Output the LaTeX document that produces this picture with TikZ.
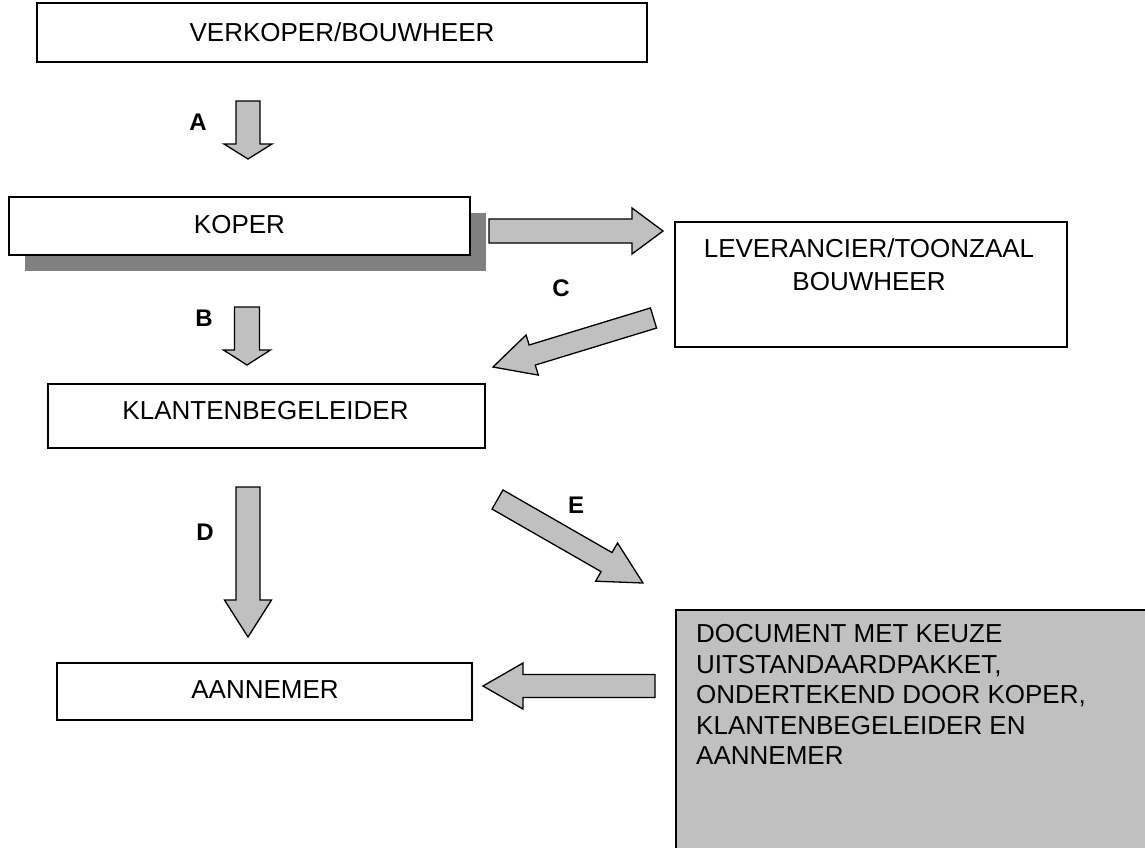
\documentclass[tikz,border=0pt]{standalone}
\usepackage{fontspec}
\setmainfont{Liberation Sans}
\usetikzlibrary{calc}
\definecolor{arrowgray}{HTML}{C0C0C0}
\definecolor{shadowgray}{HTML}{808080}
\newcommand\blockarrow[6]{%
  \coordinate (#1s) at #2;
  \coordinate (#1e) at #3;
  \coordinate (#1h) at ($(#1e)!#6!(#1s)$);
  \draw[barrow] ($(#1s)!#4!90:(#1e)$) -- ($(#1h)!#4!90:(#1e)$) -- ($(#1h)!#5!90:(#1e)$)
     -- (#1e) -- ($(#1h)!#5!-90:(#1e)$) -- ($(#1h)!#4!-90:(#1e)$) -- ($(#1s)!#4!-90:(#1e)$) -- cycle;
}
\tikzset{
  box/.style={draw=black, line width=1.5pt, fill=white, inner sep=0pt},
  barrow/.style={draw=black, line width=1.3pt, fill=arrowgray, line join=miter},
  txt/.style={font=\fontsize{26}{30}\selectfont, inner sep=0pt},
  lbl/.style={font=\fontsize{24}{28}\selectfont\bfseries, inner sep=0pt},
}
\begin{document}
\begin{tikzpicture}[x=1pt, y=-1pt]
\useasboundingbox (0,0) rectangle (1145,847);
\clip (0,0) rectangle (1145,847);
% top box
\node[box, minimum width=610pt, minimum height=59pt] (top) at (342,32.5) {};
\node[txt] (toptxt) at (342,32) {VERKOPER/BOUWHEER};
% KOPER with shadow
\fill[shadowgray] (25,213) rectangle (486,271);
\node[box, minimum width=461pt, minimum height=58pt] (koper) at (239.5,226) {};
\node[txt] (kopertxt) at (239.5,224.5) {KOPER};
% Leverancier
\node[box, minimum width=392pt, minimum height=125pt] (lev) at (871,284.5) {};
\node[txt, anchor=north, align=center, font=\fontsize{26}{33}\selectfont] (levtxt) at (869,238.5) {LEVERANCIER/TOONZAAL\\BOUWHEER};
% Klantenbegeleider
\node[box, minimum width=437pt, minimum height=64pt] (klant) at (266.5,416) {};
\node[txt] (klanttxt) at (265.5,411) {KLANTENBEGELEIDER};
% Aannemer
\node[box, minimum width=415pt, minimum height=57pt] (aan) at (264.5,691.5) {};
\node[txt] (aantxt) at (265,690) {AANNEMER};
% document box
\node[box, fill=arrowgray, minimum width=500pt, minimum height=280pt, anchor=north west] (doc) at (675,609) {};
\node[txt, anchor=north west, align=left, font=\fontsize{26}{30.5}\selectfont] (doctxt) at (696,624.5)
  {DOCUMENT MET KEUZE\\UITSTANDAARDPAKKET,\\ONDERTEKEND DOOR KOPER,\\KLANTENBEGELEIDER EN\\AANNEMER};
% arrows
\blockarrow{a}{(248,101)}{(248,159)}{12pt}{24pt}{15pt}
\blockarrow{b}{(247,307)}{(247,365)}{12.5pt}{23.5pt}{15pt}
\blockarrow{d}{(248,487)}{(248,637)}{12pt}{23.5pt}{37pt}
\blockarrow{r}{(489,231)}{(663,231)}{12pt}{23pt}{31pt}
\blockarrow{c}{(653.5,318)}{(493,367)}{10.5pt}{21pt}{41pt}
\blockarrow{e}{(497.5,499.5)}{(643,583)}{11pt}{22pt}{42pt}
\blockarrow{l}{(655,686)}{(483,686)}{11.5pt}{23pt}{40pt}
% labels
\node[lbl] (la) at (198,122) {A};
\node[lbl] (lb) at (204,318) {B};
\node[lbl] (lc) at (561,288) {C};
\node[lbl] (ld) at (205,532) {D};
\node[lbl] (le) at (576,505) {E};
\end{tikzpicture}
\end{document}
